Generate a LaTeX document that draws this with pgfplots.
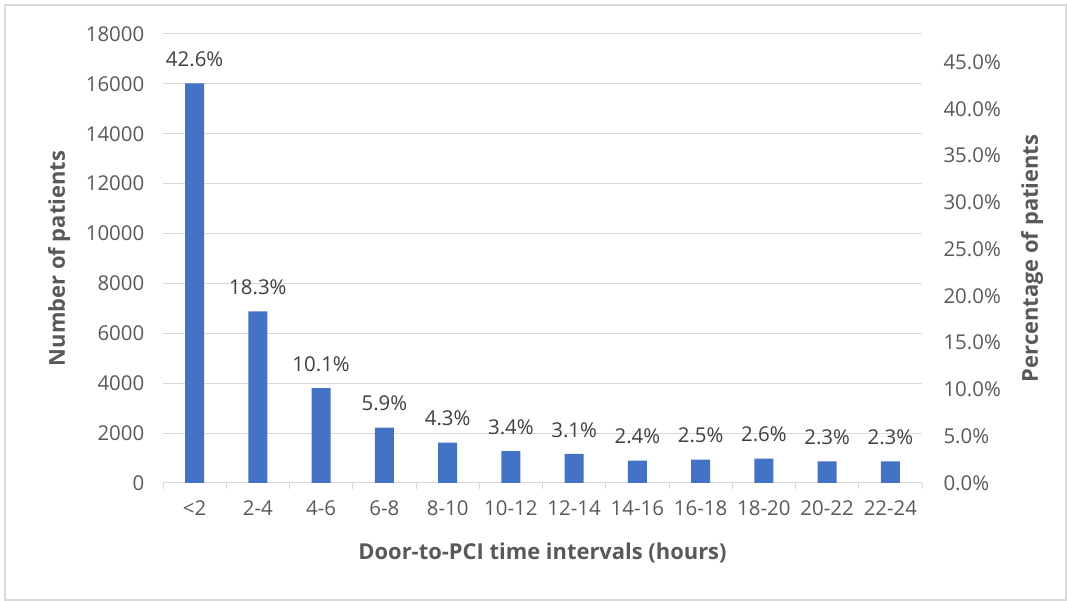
\documentclass[border=0pt]{standalone}
\usepackage{pgfplots}
\pgfplotsset{compat=1.18}
\usepackage{pgfplotstable}
\usepackage{fontspec}
\setmainfont{Open Sans}

\definecolor{barblue}{HTML}{4472C4}
\definecolor{txtgray}{HTML}{595959}
\definecolor{lblgray}{HTML}{404040}
\definecolor{gridgray}{HTML}{D9D9D9}

% patients per door-to-PCI interval, with share of all patients (%)
\pgfplotstableread{
idx count pct
0  16020 42.6
1  6880  18.3
2  3800  10.1
3  2220  5.9
4  1620  4.3
5  1280  3.4
6  1165  3.1
7  900   2.4
8  940   2.5
9  980   2.6
10 865   2.3
11 865   2.3
}\intervals

\newcommand{\ticksize}{\fontsize{20.5}{24}\selectfont}
\newcommand{\labelsize}{\fontsize{22}{26}\selectfont}

\begin{document}
\begin{tikzpicture}[x=1bp,y=1bp]
\useasboundingbox (0,0) rectangle (1067,601);
\draw[gridgray, line width=1.5bp] (5,1) rectangle (1066,596);

\pgfplotsset{
  common/.style={
    scale only axis, width=759bp, height=449bp,
    at={(163bp,118bp)}, anchor=south west,
    xmin=-0.5, xmax=11.5,
    scaled y ticks=false,
    /pgf/number format/assume math mode=true,
    tick label style={font=\ticksize, text=txtgray},
  }
}

\begin{axis}[
  common,
  ymin=0, ymax=18000,
  ytick={0,2000,...,18000},
  yticklabel style={/pgf/number format/1000 sep={}, xshift=-11bp},
  ymajorgrids,
  grid style={gridgray, line width=1bp},
  axis x line*=bottom,
  axis y line*=left,
  y axis line style={draw=none},
  x axis line style={gridgray, line width=1bp},
  major y tick style={draw=none},
  xtick={0,...,11},
  xticklabels={<2,2-4,4-6,6-8,8-10,10-12,12-14,14-16,16-18,18-20,20-22,22-24},
  major x tick style={draw=none},
  minor xtick={-0.5,0.5,...,11.5},
  minor x tick style={gridgray, line width=1bp},
  minor tick length=6bp,
  tick align=outside,
  xticklabel style={yshift=-10bp},
  xlabel={Door-to-PCI time intervals (hours)},
  ylabel={Number of patients},
  every axis x label/.style={at={(axis description cs:0.5,-0.156)}, anchor=center,
    font=\labelsize\bfseries, text=txtgray},
  every axis y label/.style={at={(axis description cs:-0.137,0.5)}, anchor=center, rotate=90,
    font=\labelsize\bfseries, text=txtgray},
  nodes near coords={\pgfmathprintnumber[fixed,fixed zerofill,precision=1]{\pgfplotspointmeta}\%},
  point meta=explicit,
  every node near coord/.append style={font=\ticksize, text=lblgray, anchor=center, yshift=24bp},
]
\addplot[ybar, bar width=19bp, bar shift=0pt, fill=barblue, draw=none]
  table[x=idx, y=count, meta=pct] {\intervals};
\end{axis}

\begin{axis}[
  common,
  ymin=0, ymax=48,
  ytick={0,5,...,45},
  yticklabel={\pgfmathprintnumber[fixed,fixed zerofill,precision=1]{\tick}\%},
  yticklabel style={xshift=18bp},
  axis y line*=right,
  axis x line=none,
  y axis line style={draw=none},
  major y tick style={draw=none},
  ylabel={Percentage of patients},
  every axis y label/.style={at={(axis description cs:1.145,0.5)}, anchor=center, rotate=90,
    font=\labelsize\bfseries, text=txtgray},
]
\end{axis}
\end{tikzpicture}
\end{document}
